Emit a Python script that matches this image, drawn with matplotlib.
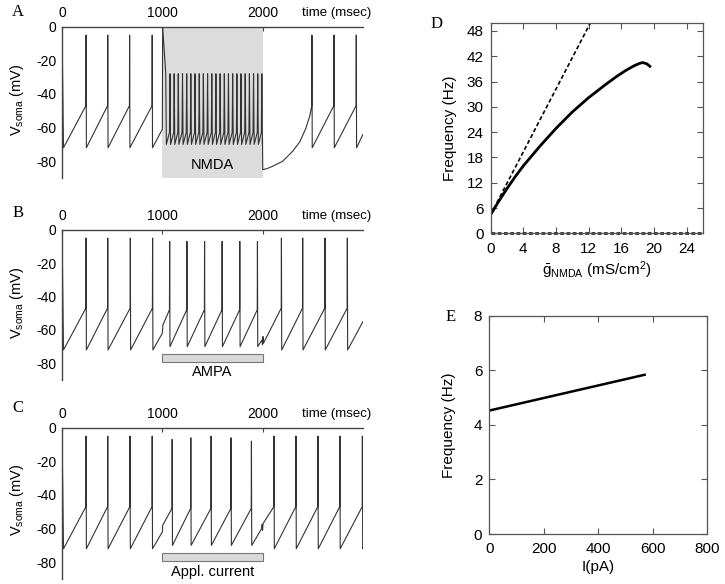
import matplotlib
matplotlib.use('Agg')
import matplotlib.pyplot as plt
from matplotlib.patches import Rectangle

plt.rcParams['font.family'] = ['Liberation Sans', 'DejaVu Sans']
plt.rcParams['mathtext.fontset'] = 'custom'
plt.rcParams['mathtext.rm'] = 'Liberation Sans'
plt.rcParams['mathtext.it'] = 'Liberation Sans:italic'
plt.rcParams['mathtext.bf'] = 'Liberation Sans:bold'

# ---------------- data ----------------
# Panel A (NMDA)
A_spikes_pre = [239, 455, 673, 898]
A_onset_t = [1000, 1003, 1034]
A_onset_v = [-61, 0, -28]
A_osc_peaks = [1034, 1076, 1118, 1159, 1201, 1243, 1284, 1326, 1368, 1409, 1451, 1493,
               1534, 1576, 1618, 1659, 1701, 1743, 1784, 1826, 1868, 1909, 1951, 1992]
A_osc_high, A_osc_low, A_osc_thr = -28, -70, -63
A_rec_t = [1998, 2001, 2040, 2100, 2200, 2300, 2370, 2430, 2470]
A_rec_v = [-66, -85, -84.5, -83, -80, -74, -68.5, -60.5, -53]
A_spikes_post = [2490, 2710, 2932]
A_end = (3000, -64)

# Panel B (AMPA)
B_spikes = [239, 455, 680, 902, 1072, 1244, 1420, 1595, 1771, 1947, 2186, 2398, 2620, 2843]
B_peaks = [-5, -5, -5, -5, -7, -7, -7, -7, -7, -7, -5, -5, -5, -5]
B_resets = [-72, -72, -72, -72, -70, -70, -70, -70, -70, -70, -72, -72, -72, -72]
B_thresh = [-47, -47, -47, -47, -48, -48, -48, -48, -48, -48, -47, -47, -47, -47]
B_extra_t = [1000, 1006, 1993, 1998, 2003, 2008]
B_extra_v = [-62, -57, -66, -69, -64, -68]
B_end = (3000, -55)

# Panel C (applied current)
C_spikes = [239, 455, 677, 898, 1097, 1283, 1485, 1684, 1887, 2112, 2331, 2550, 2769, 2993]
C_peaks = [-5, -5, -5, -5, -7, -6, -5, -6, -8, -5, -5, -5, -5, -5]
C_resets = [-72, -72, -72, -72, -70, -70, -70, -70, -70, -72, -72, -72, -72, -72]
C_thresh = [-47, -47, -47, -47, -48, -48, -48, -48, -48, -47, -47, -47, -47, -47]
C_extra_t = [1000, 1004, 1990, 1995, 1999, 2004]
C_extra_v = [-62, -58, -60, -57.5, -61, -57]
C_end = (3000, -71)

time_ticks = [0, 1000, 2000]
v_ticks = [0, -20, -40, -60, -80]

# Panel D
D_g = [0, 1, 2, 3, 4, 6, 8, 10, 12, 14, 15.4, 16.5, 17.5, 18.2, 18.6, 19.1, 19.6]
D_f = [4.4, 7.6, 10.6, 13.4, 16.0, 20.6, 24.9, 28.8, 32.2, 35.2, 37.2, 38.6, 39.7, 40.3, 40.5, 40.2, 39.4]
D_lin_g = [0, 13.0]
D_lin_f = [4.4, 52.9]
D_xticks = [0, 4, 8, 12, 16, 20, 24]
D_yticks = [0, 6, 12, 18, 24, 30, 36, 42, 48]

# Panel E
E_I = [0, 570]
E_f = [4.52, 5.83]
E_xticks = [0, 200, 400, 600, 800]
E_yticks = [0, 2, 4, 6, 8]

# ---------------- helpers ----------------
W, H = 725, 584
fig = plt.figure(figsize=(W / 100, H / 100), dpi=100)


def add_ax(l, r, t, b):
    return fig.add_axes([l / W, 1 - b / H, (r - l) / W, (b - t) / H])


def spike_pts(spikes, peaks, resets, thr):
    pts = []
    for t, p, r, th in zip(spikes, peaks, resets, thr):
        pts += [(t - 1, th), (t + 1, p), (t + 4, r)]
    return pts


TR = '#333333'
SP = '#444444'


def style_trace_ax(ax):
    ax.set_xlim(0, 3000)
    ax.set_ylim(-90, 0)
    for s in ['right', 'bottom']:
        ax.spines[s].set_visible(False)
    for s in ['left', 'top']:
        ax.spines[s].set_color(SP)
        ax.spines[s].set_linewidth(1.0)
    ax.xaxis.set_ticks_position('top')
    ax.set_xticks(time_ticks)
    ax.set_yticks(v_ticks)
    ax.set_yticklabels([str(v) for v in v_ticks])
    ax.tick_params(axis='x', direction='in', length=3, pad=5, labelsize=10, color=SP)
    ax.tick_params(axis='y', direction='in', length=0, pad=4, labelsize=10)
    ax.text(2390, 4.5, 'time (msec)', fontsize=9.5, ha='left', va='bottom', clip_on=False)
    ax.patch.set_alpha(0)


# ---------------- Panel A ----------------
axA = add_ax(62, 363, 26.7, 178)
ptsA = [(0, 0), (15, -72)]
ptsA += spike_pts(A_spikes_pre, [-5] * 4, [-72] * 4, [-47] * 4)
ptsA += list(zip(A_onset_t, A_onset_v))
for i, t in enumerate(A_osc_peaks):
    if i > 0:
        ptsA.append((t - 5, A_osc_thr))
        ptsA.append((t, A_osc_high))
    ptsA.append((t + 6, A_osc_low))
ptsA += list(zip(A_rec_t, A_rec_v))
ptsA += spike_pts(A_spikes_post, [-5] * 3, [-72] * 3, [-47] * 3)
ptsA.append(A_end)
ptsA.sort()
axA.axvspan(1000, 2000, color='#dcdcdc', zorder=0, lw=0)
axA.plot([p[0] for p in ptsA], [p[1] for p in ptsA], color=TR, lw=0.8)
axA.text(1500, -82, 'NMDA', ha='center', va='center', fontsize=10.5)
style_trace_ax(axA)

# ---------------- Panel B ----------------
axB = add_ax(62, 363, 229.7, 380)
ptsB = [(0, 0), (15, -72)] + spike_pts(B_spikes, B_peaks, B_resets, B_thresh)
ptsB += list(zip(B_extra_t, B_extra_v))
ptsB.append(B_end)
ptsB.sort()
axB.plot([p[0] for p in ptsB], [p[1] for p in ptsB], color=TR, lw=0.8)
axB.add_patch(Rectangle((1000, -79.5), 1000, 4.8, fc='#d9d9d9', ec='#777777', lw=0.8))
axB.text(1500, -85.5, 'AMPA', ha='center', va='center', fontsize=10.5)
style_trace_ax(axB)

# ---------------- Panel C ----------------
axC = add_ax(62, 363, 427.7, 579)
ptsC = [(0, 0), (15, -72)] + spike_pts(C_spikes, C_peaks, C_resets, C_thresh)
ptsC += list(zip(C_extra_t, C_extra_v))
ptsC.append(C_end)
ptsC.sort()
axC.plot([p[0] for p in ptsC], [p[1] for p in ptsC], color=TR, lw=0.8)
axC.add_patch(Rectangle((1000, -79.5), 1000, 4.8, fc='#d9d9d9', ec='#777777', lw=0.8))
axC.text(1500, -86, 'Appl. current', ha='center', va='center', fontsize=10.5)
style_trace_ax(axC)

for y in [100, 303, 500]:
    fig.text(17 / W, 1 - y / H, r'V$_{\rm soma}$ (mV)', rotation=90, ha='center',
             va='center', fontsize=10.5)


def style_box(ax):
    for s in ax.spines.values():
        s.set_color('#555555')
        s.set_linewidth(0.9)
    ax.tick_params(direction='in', top=True, right=True, length=4, labelsize=11,
                   color='#555555')
    ax.tick_params(axis='x', pad=6)
    ax.tick_params(axis='y', pad=5)


# ---------------- Panel D ----------------
axD = add_ax(490.6, 703.3, 22.5, 233.3)
axD.plot(D_g, D_f, color='black', lw=2.0, solid_capstyle='butt')
axD.plot(D_lin_g, D_lin_f, color='black', lw=1.2, dashes=(2.5, 1.5))
axD.plot([0, 26], [0, 0], color='black', lw=1.8, dashes=(1.5, 1.0), clip_on=False)
axD.set_xlim(0, 26)
axD.set_ylim(0, 50)
axD.set_xticks(D_xticks)
axD.set_yticks(D_yticks)
style_box(axD)
axD.set_xlabel(r'$\bar{\rm g}_{\rm NMDA}$ (mS/cm$^{2}$)', fontsize=11, labelpad=3)
axD.set_ylabel('Frequency (Hz)', fontsize=11, labelpad=7)

# ---------------- Panel E ----------------
axE = add_ax(489.3, 707.3, 315.5, 534)
axE.plot(E_I, E_f, color='black', lw=1.8)
axE.set_xlim(0, 800)
axE.set_ylim(0, 8)
axE.set_xticks(E_xticks)
axE.set_yticks(E_yticks)
style_box(axE)
axE.set_xlabel('I(pA)', fontsize=11, labelpad=3)
axE.set_ylabel('Frequency (Hz)', fontsize=11, labelpad=13)

# ---------------- panel letters ----------------
for lab, x, y in [('A', 18, 12), ('B', 18, 213), ('C', 18, 408), ('D', 437, 24), ('E', 451, 317)]:
    fig.text(x / W, 1 - y / H, lab, family='Liberation Serif', fontsize=12,
             ha='center', va='center')

fig.savefig('out.png', dpi=100)
